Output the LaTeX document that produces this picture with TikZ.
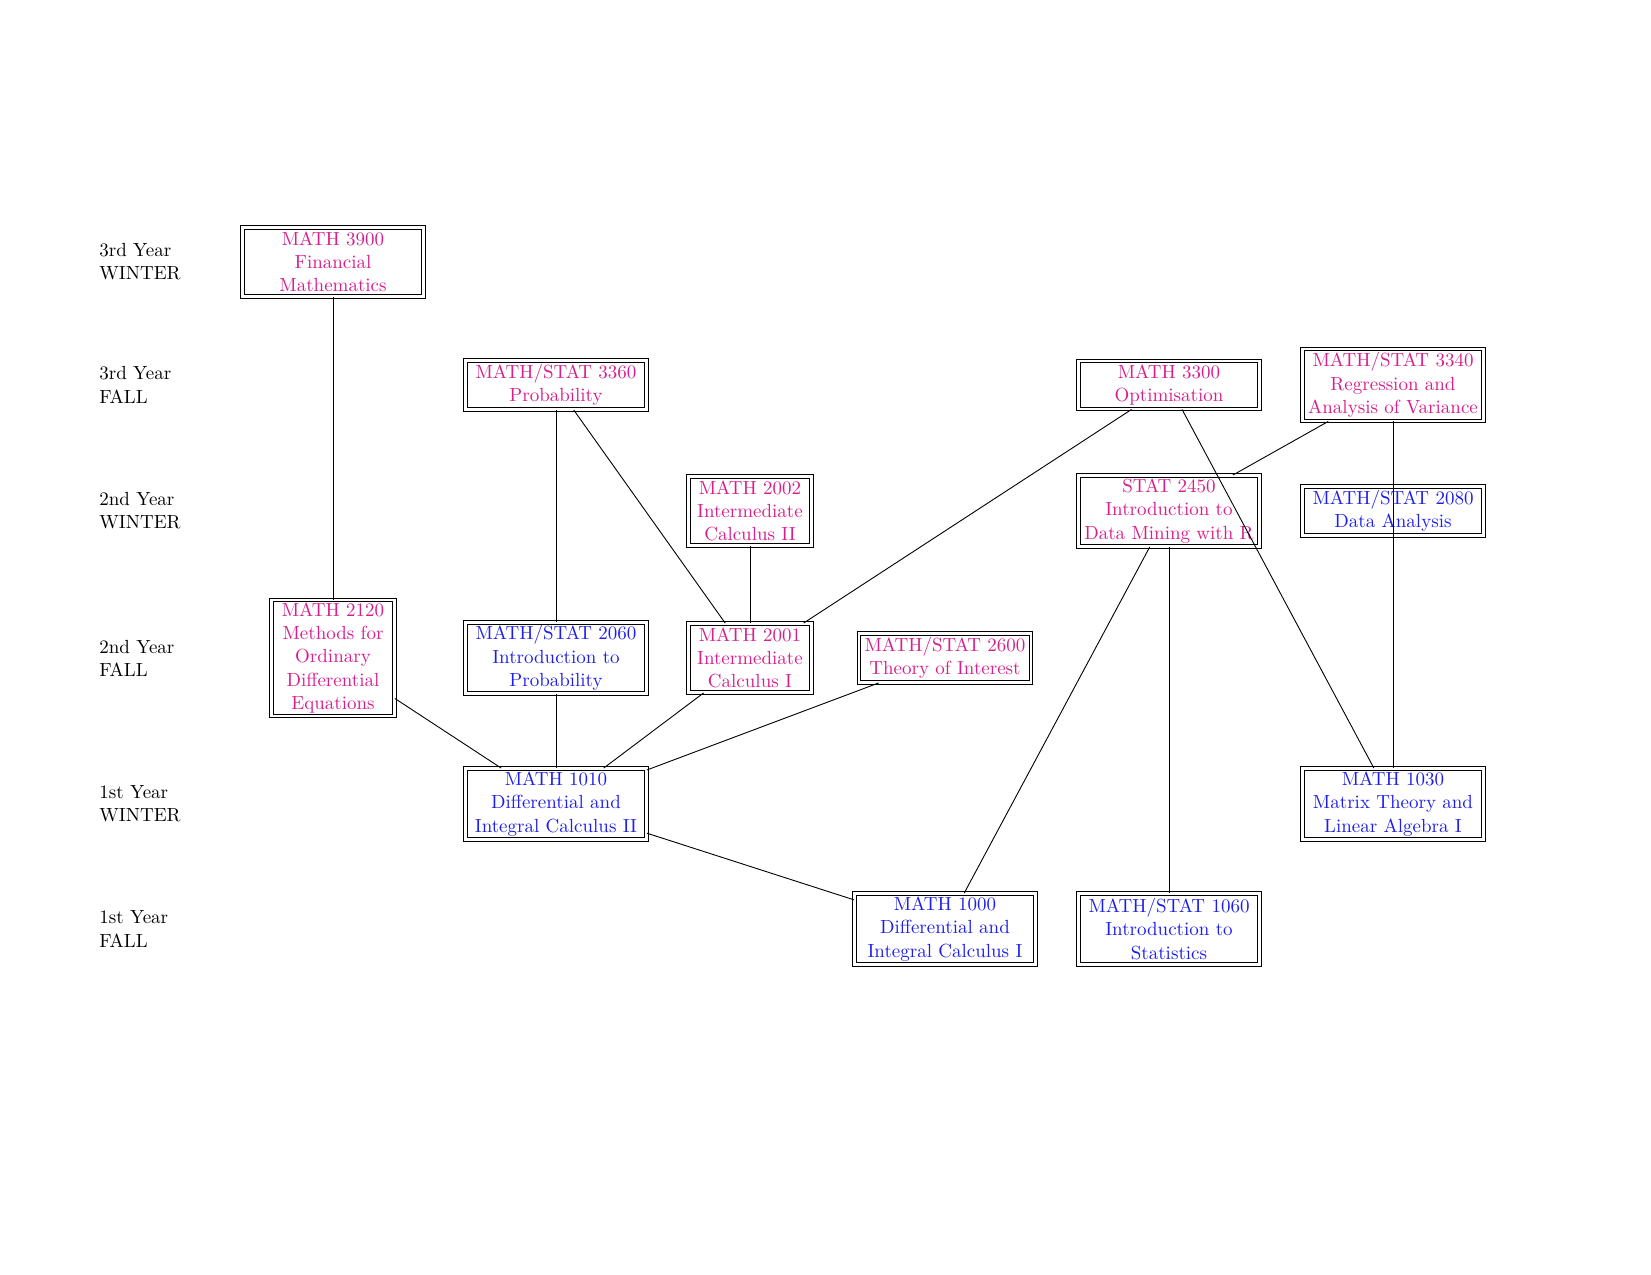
\documentclass[tikz,border=0pt]{standalone}
\usepackage{xcolor}
\definecolor{pinkc}{RGB}{215,30,140}
\definecolor{bluec}{RGB}{30,30,235}
\begin{document}
\begin{tikzpicture}[x=0.5pt,y=-0.5pt,
  font=\fontsize{9.5}{11.6}\selectfont,
  course/.style={draw=black, double, double distance=1.4pt, line width=0.45pt, inner sep=0pt, align=center, minimum width=#1},
  pk/.style={text=pinkc},
  bl/.style={text=bluec},
  yr/.style={anchor=west, align=left, inner sep=0pt},
  edge/.style={line width=0.45pt}]
\useasboundingbox (0,0) rectangle (1651,1275);
% row labels
\node[yr] (l1) at (99,262) {3rd Year\\WINTER};
\node[yr] (l2) at (99,385) {3rd Year\\FALL};
\node[yr] (l3) at (99,511) {2nd Year\\WINTER};
\node[yr] (l4) at (99,658) {2nd Year\\FALL};
\node[yr] (l5) at (99,804) {1st Year\\WINTER};
\node[yr] (l6) at (99,929) {1st Year\\FALL};
% courses
\node[course=90.5pt, minimum height=34.5pt, pk] (n3900) at (333,262) {MATH 3900\\Financial\\Mathematics};
\node[course=90.5pt, minimum height=24.5pt, pk] (n3360) at (556,385) {MATH/STAT 3360\\Probability};
\node[course=90.5pt, minimum height=24pt, pk] (n3300) at (1169,385) {MATH 3300\\Optimisation};
\node[course=90.5pt, minimum height=36pt, pk] (n3340) at (1393,385) {MATH/STAT 3340\\Regression and\\Analysis of Variance};
\node[course=61.5pt, minimum height=34.5pt, pk] (n2002) at (750,511) {MATH 2002\\Intermediate\\Calculus II};
\node[course=90.5pt, minimum height=35.5pt, pk] (n2450) at (1169,511) {STAT 2450\\Introduction to\\Data Mining with R};
\node[course=90.5pt, minimum height=24.5pt, bl] (n2080) at (1393,511) {MATH/STAT 2080\\Data Analysis};
\node[course=61.5pt, minimum height=58pt, pk] (n2120) at (333,658) {MATH 2120\\Methods for\\Ordinary\\Differential\\Equations};
\node[course=90.5pt, minimum height=35.5pt, bl] (n2060) at (556,658) {MATH/STAT 2060\\Introduction to\\Probability};
\node[course=61.5pt, minimum height=34.5pt, pk] (n2001) at (750,658) {MATH 2001\\Intermediate\\Calculus I};
\node[course=86pt, minimum height=24.5pt, pk] (n2600) at (945,658) {MATH/STAT 2600\\Theory of Interest};
\node[course=90.5pt, minimum height=35.5pt, bl] (n1010) at (556,804) {MATH 1010\\Differential and\\Integral Calculus II};
\node[course=90.5pt, minimum height=35.5pt, bl] (n1030) at (1393,804) {MATH 1030\\Matrix Theory and\\Linear Algebra I};
\node[course=90.5pt, minimum height=35.5pt, bl] (n1000) at (945,929) {MATH 1000\\Differential and\\Integral Calculus I};
\node[course=90.5pt, minimum height=35.5pt, bl] (n1060) at (1169,929) {MATH/STAT 1060\\Introduction to\\Statistics};
% edges
\draw[edge] (n3900) -- (n2120);
\draw[edge] (n3360) -- (n2060);
\draw[edge] (n3360) -- (n2001);
\draw[edge] (n2002) -- (n2001);
\draw[edge] (n3300) -- (n2001);
\draw[edge] (n3300) -- (n1030);
\draw[edge] (n3340) -- (n2450);
\draw[edge] (n3340) -- (n1030);
\draw[edge] (n2450) -- (n1000);
\draw[edge] (n2450) -- (n1060);
\draw[edge] (n2120) -- (n1010);
\draw[edge] (n2060) -- (n1010);
\draw[edge] (n2001) -- (n1010);
\draw[edge] (n2600) -- (n1010);
\draw[edge] (n1010) -- (n1000);
\end{tikzpicture}
\end{document}
